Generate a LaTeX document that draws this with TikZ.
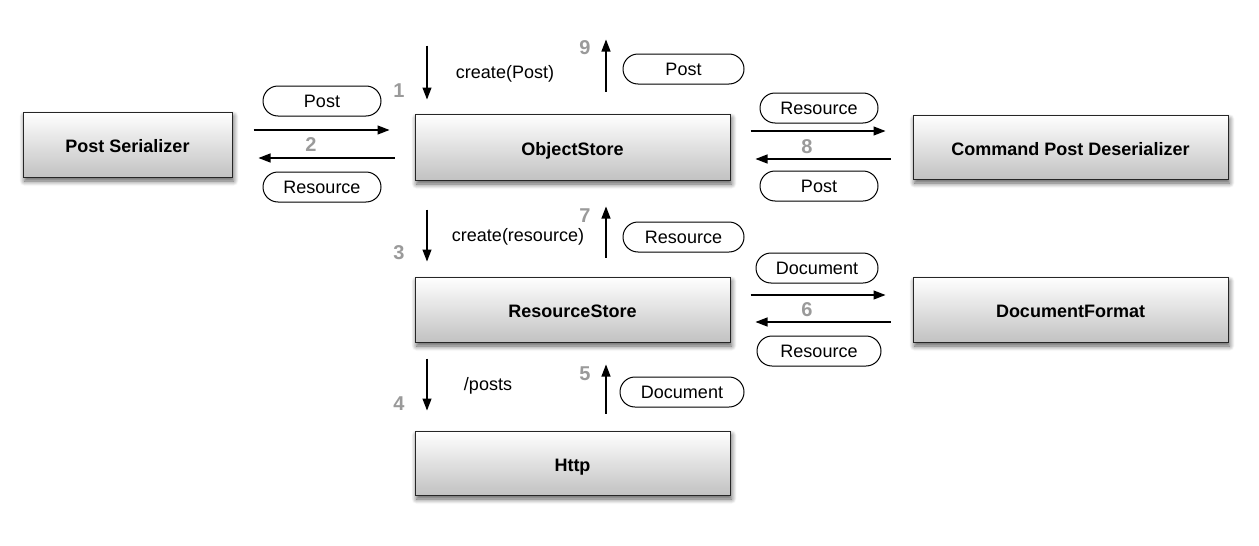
\documentclass[tikz,border=0pt]{standalone}
\usepackage{fontspec}
\setmainfont{Liberation Sans}
\usetikzlibrary{arrows.meta,calc,shadows.blur,shapes.misc}
\definecolor{numgray}{HTML}{9A9A9A}
\tikzset{
  box/.style={draw=black!85, line width=1pt, top color=white, bottom color=black!24,
    minimum height=65pt, inner sep=0pt, text height=16pt, text depth=0pt,
    font=\fontsize{18}{21}\selectfont\bfseries,
    blur shadow={shadow xshift=1.5pt, shadow yshift=-4pt, shadow blur radius=5pt, shadow blur steps=8, shadow opacity=65}},
  pill/.style={draw, line width=1pt, rounded rectangle, minimum width=118pt, minimum height=30pt,
    inner sep=0pt, font=\fontsize{18}{21}\selectfont, fill=white},
  num/.style={text=numgray, font=\fontsize{20}{23}\selectfont\bfseries, inner sep=0pt},
  lbl/.style={font=\fontsize{18}{21}\selectfont, inner sep=0pt},
  arr/.style={line width=1.2pt, -{Triangle[length=12pt,width=9pt]}},
}
\begin{document}
\begin{tikzpicture}[x=1pt,y=-1pt]
\useasboundingbox (0,0) rectangle (1259,546);
% boxes
\node[box, minimum width=209pt] (ps) at (127.5,144.5) {Post Serializer};
\node[box, minimum width=315pt, minimum height=66pt] (os) at (572.5,147) {ObjectStore};
\node[box, minimum width=315pt, minimum height=64pt] (cpd) at (1070.5,147) {Command Post Deserializer};
\node[box, minimum width=315pt] (rs) at (572.5,309.5) {ResourceStore};
\node[box, minimum width=315pt] (df) at (1070.5,309.5) {DocumentFormat};
\node[box, minimum width=315pt, minimum height=64pt] (http) at (572.5,463) {Http};
% PS <-> OS
\draw[arr] ($(ps.east)+(21,-14.5)$) -- ($(os.west)+(-25,-17)$);
\draw[arr] ($(os.west)+(-20,11)$) -- ($(ps.east)+(26,13.5)$);
\node[pill] (p1) at (322,101) {Post};
\node[pill] (p2) at (322,187) {Resource};
\node[num] (n2) at (311,145) {2};
% OS top
\draw[arr] ($(os.north)+(-145.5,-68)$) -- ($(os.north)+(-145.5,-14)$);
\node[num] (n1) at (399,91) {1};
\node[lbl] (l1) at (505,74) {create(Post)};
\draw[arr] ($(os.north)+(33.5,-22)$) -- ($(os.north)+(33.5,-74)$);
\node[num] (n9) at (585,48) {9};
\node[pill, minimum width=121pt] (p9) at (683.5,69) {Post};
% OS <-> CPD
\draw[arr] ($(os.east)+(20,-16)$) -- ($(cpd.west)+(-27,-16)$);
\draw[arr] ($(cpd.west)+(-22,12)$) -- ($(os.east)+(25,12)$);
\node[pill] (p8a) at (819,108) {Resource};
\node[pill] (p8b) at (819,186) {Post};
\node[num] (n8) at (807,147) {8};
% OS <-> RS
\draw[arr] ($(os.south)+(-145.5,29)$) -- ($(rs.north)+(-145.5,-15)$);
\node[num] (n3) at (399,253) {3};
\node[lbl] (l3) at (518,237) {create(resource)};
\draw[arr] ($(rs.north)+(33.5,-19)$) -- ($(os.south)+(33.5,26)$);
\node[num] (n7) at (585,216) {7};
\node[pill, minimum width=121pt] (p7) at (683.5,237) {Resource};
% RS <-> DF
\draw[arr] ($(rs.east)+(20,-14.5)$) -- ($(df.west)+(-27,-14.5)$);
\draw[arr] ($(df.west)+(-22,12.5)$) -- ($(rs.east)+(25,12.5)$);
\node[pill, minimum width=122pt] (p6a) at (817,268) {Document};
\node[pill, minimum width=124pt] (p6b) at (819,351) {Resource};
\node[num] (n6) at (807,310) {6};
% RS <-> Http
\draw[arr] ($(rs.south)+(-145.5,16)$) -- ($(http.north)+(-145.5,-20)$);
\node[num] (n4) at (399,404) {4};
\node[lbl] (l4) at (488,386) {/posts};
\draw[arr] ($(http.north)+(33.5,-17)$) -- ($(rs.south)+(33.5,22)$);
\node[num] (n5) at (585,374) {5};
\node[pill, minimum width=124pt] (p5) at (682,392) {Document};
\end{tikzpicture}
\end{document}
